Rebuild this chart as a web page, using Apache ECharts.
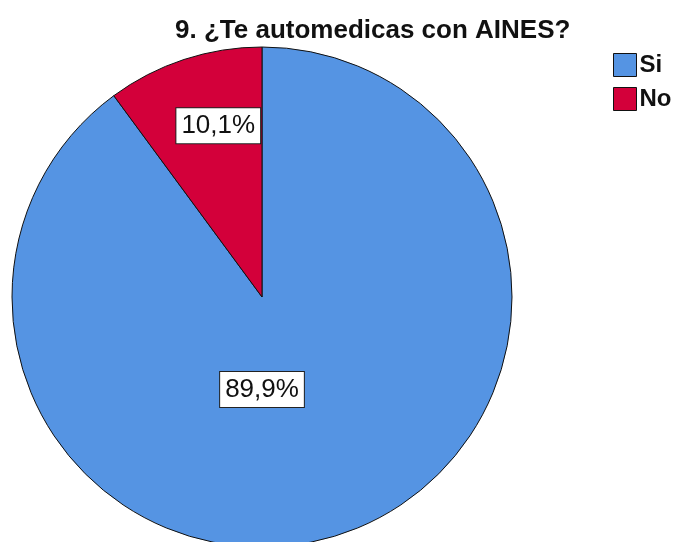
<!DOCTYPE html>
<html>
<head>
<meta charset="utf-8">
<script src="https://cdn.jsdelivr.net/npm/echarts@6/dist/echarts.min.js"></script>
<style>
  html, body { margin: 0; padding: 0; background: #fff; }
  #chart { width: 678px; height: 542px; }
</style>
</head>
<body>
<div id="chart"></div>
<script>
// data
var categories = ['Si', 'No'];
var percents = [89.9, 10.1];
var colors = ['#5594e3', '#d3003a'];
// where SPSS put each label, relative to the pie centre, as a fraction of the radius
var labelSpots = [[0, 0.37], [-0.175, -0.685]];

var center = [262, 297];
var radius = 250;

var myChart = echarts.init(document.getElementById('chart'));

var option = {
    backgroundColor: '#ffffff',
    animation: false,
    textStyle: { fontFamily: '"Liberation Sans", Arial, sans-serif' },
    title: {
        text: '9. ¿Te automedicas con AINES?',
        left: 170,
        top: 13,
        textStyle: {
            fontSize: 26,
            fontWeight: 'bold',
            color: '#111'
        }
    },
    legend: {
        orient: 'vertical',
        left: 608,
        top: 48,
        itemWidth: 23,
        itemHeight: 23,
        itemGap: 10,
        icon: 'rect',
        data: categories,
        itemStyle: { borderColor: '#111', borderWidth: 1 },
        textStyle: { fontSize: 24, fontWeight: 'bold', color: '#111', padding: [0, 0, 0, -2] }
    },
    series: [
        {
            name: 'AINES',
            type: 'pie',
            center: center,
            radius: radius,
            startAngle: 90,
            clockwise: true,
            data: categories.map(function (c, i) {
                return { name: c, value: percents[i], itemStyle: { color: colors[i] } };
            }),
            itemStyle: { borderColor: '#111', borderWidth: 1 },
            emphasis: { disabled: true },
            label: {
                show: true,
                position: 'inside',
                formatter: function (p) {
                    return percents[p.dataIndex].toFixed(1).replace('.', ',') + '%';
                },
                fontSize: 26,
                color: '#111',
                backgroundColor: '#ffffff',
                borderColor: '#222',
                borderWidth: 1,
                padding: [5, 5, 4, 5]
            },
            labelLine: { show: false },
            labelLayout: function (params) {
                var s = labelSpots[params.dataIndex];
                return {
                    x: center[0] + s[0] * radius,
                    y: center[1] + s[1] * radius,
                    align: 'center',
                    verticalAlign: 'middle'
                };
            }
        }
    ]
};
myChart.setOption(option);
</script>
</body>
</html>
